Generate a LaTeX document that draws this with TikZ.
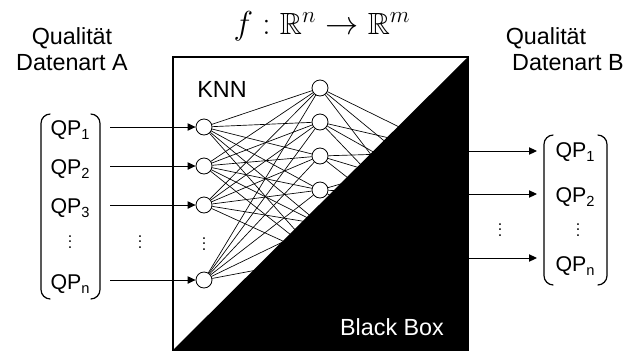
\documentclass[tikz,border=0pt]{standalone}
\usepackage{amsmath, amssymb}
\usepackage{fontspec}
\setmainfont{Liberation Sans}
\usepackage{tikz}
\usetikzlibrary{arrows.meta}

\newcommand{\qpsub}[1]{\raisebox{-3.6pt}{\fontsize{11}{12}\selectfont #1}}

\begin{document}
\begin{tikzpicture}[x=0.75pt, y=-0.75pt,
    neuron/.style={circle, draw, fill=white, minimum size=12pt, inner sep=0pt, line width=0.6pt},
    txt/.style={font=\fontsize{17.5}{20}\selectfont},
    qp/.style={font=\fontsize{16}{19}\selectfont, anchor=base, inner sep=1pt},
    pnts/.style={font=\fontsize{12}{14}\selectfont, inner sep=0pt},
    feed/.style={-{Triangle[length=6pt,width=5.5pt]}, line width=0.75pt},
    paren/.style={line width=0.9pt, rounded corners=7pt}]
  \useasboundingbox (0,0) rectangle (632,351);

  % titles
  \node[txt] (qualA) at (72,38) {Qualität};
  \node[txt] (artA) at (72,63) {Datenart A};
  \node[txt] (qualB) at (546,38) {Qualität};
  \node[txt] (artB) at (568,63) {Datenart B};
  \node[font=\fontsize{23}{26}\selectfont] (abb) at (322,26) {$f:\mathbb{R}^n\to\mathbb{R}^m$};

  % network
  \foreach \y [count=\i] in {127,166,205,280}
    \node[neuron] (in\i) at (204,\y) {};
  \foreach \y [count=\j] in {88,122,156,190,224,258}
    \node[neuron] (hid\j) at (320,\y) {};
  \foreach \y [count=\k] in {152,195,258}
    \node[neuron] (out\k) at (450,\y) {};
  \foreach \i in {1,...,4}
    \foreach \j in {1,...,6}
      \draw[line width=0.5pt] (in\i) -- (hid\j);
  \foreach \j in {1,...,6}
    \foreach \k in {1,2,3}
      \draw[line width=0.5pt] (hid\j) -- (out\k);
  \node[pnts] (inpt) at (204,240) {$\vdots$};
  \node[txt] (knn) at (222,89) {KNN};

  % black box
  \fill (468,57) -- (468,350) -- (173,350) -- cycle;
  \draw[line width=1.1pt] (173,57) rectangle (468,350);
  \node[txt, text=white] (bbox) at (392,327) {Black Box};

  % inputs
  \draw[paren] (50,114) -- (41,114) -- (41,299) -- (50,299);
  \draw[paren] (91,114) -- (100,114) -- (100,299) -- (91,299);
  \node[qp] (qa1) at (70,135) {QP\qpsub{1}};
  \node[qp] (qa2) at (70,174) {QP\qpsub{2}};
  \node[qp] (qa3) at (70,213) {QP\qpsub{3}};
  \node[qp] (qan) at (70,289) {QP\qpsub{n}};
  \node[pnts] (qapt) at (70,238) {$\vdots$};
  \node[pnts] (mpt) at (140,238) {$\vdots$};
  \foreach \y/\i in {127/1,166/2,205/3,280/4} {
    \coordinate (s\i) at (110,\y);
    \draw[feed] (s\i) -- (in\i);
  }

  % outputs
  \foreach \y/\k in {151/1,194/2,258/3} {
    \coordinate (r\k) at (468,\y);
    \coordinate (t\k) at (537,\y);
    \draw[feed] (r\k) -- (t\k);
  }
  \draw[paren] (553,135) -- (544,135) -- (544,285) -- (553,285);
  \draw[paren] (598,135) -- (607,135) -- (607,285) -- (598,285);
  \node[qp] (qb1) at (575,157) {QP\qpsub{1}};
  \node[qp] (qb2) at (575,202) {QP\qpsub{2}};
  \node[qp] (qbn) at (575,271) {QP\qpsub{n}};
  \node[pnts] (qbpt) at (578,226) {$\vdots$};
  \node[pnts] (rpt) at (500,226) {$\vdots$};
\end{tikzpicture}
\end{document}
